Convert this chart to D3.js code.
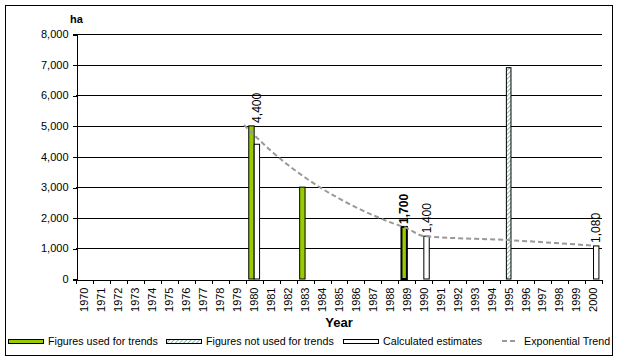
<!DOCTYPE html>
<html>
<head>
  <meta charset="utf-8">
  <title>Area estimates by year</title>
  <script src="https://cdn.jsdelivr.net/npm/d3@7"></script>
  <style>
    body { margin: 0; background: #fff; }
    svg { font-family: "Liberation Sans", Arial, sans-serif; }
    .axis path, .axis line { stroke: #000; shape-rendering: crispEdges; }
    .axis text { font-size: 11px; fill: #000; }
    .grid line { stroke: #000; shape-rendering: crispEdges; }
  </style>
</head>
<body>
<script>
  // categories and series
  var years = d3.range(1970, 2001).map(String);
  var usedYears = ["1980", "1983", "1989"];
  var usedValues = [5000, 3000, 1700];
  var notUsedYears = ["1995"];
  var notUsedValues = [6900];
  var estYears = ["1980", "1990", "2000"];
  var estValues = [4400, 1400, 1080];
  var trendYears = [1979.4, 1980, 1981, 1982, 1983, 1984, 1985, 1986, 1987, 1988, 1989, 1990, 1995, 2000];
  var trendValues = [5030, 4700, 4180, 3720, 3315, 2950, 2630, 2340, 2085, 1855, 1660, 1400, 1270, 1090];
  var yTicks = [0, 1000, 2000, 3000, 4000, 5000, 6000, 7000, 8000];
  var highlightYear = "1989";

  var W = 618, H = 361;
  var plot = {left: 76, right: 602, top: 34, bottom: 279};

  var svg = d3.select("body").append("svg")
      .attr("width", W)
      .attr("height", H);

  // hatch pattern for "not used" bars
  var defs = svg.append("defs");
  var pat = defs.append("pattern")
      .attr("id", "hatch")
      .attr("patternUnits", "userSpaceOnUse")
      .attr("width", 3).attr("height", 3)
      .attr("patternTransform", "rotate(45)");
  pat.append("rect").attr("width", 3).attr("height", 3).attr("fill", "#fff");
  pat.append("line").attr("x1", 0).attr("y1", 0).attr("x2", 0).attr("y2", 3)
      .attr("stroke", "#3b8f78").attr("stroke-width", 1.2);

  // outer frame
  svg.append("rect")
      .attr("x", 5.5).attr("y", 5.5)
      .attr("width", 607).attr("height", 350)
      .attr("fill", "#fff").attr("stroke", "#000");

  var x = d3.scaleBand().domain(years).range([plot.left, plot.right]).padding(0);
  var x1 = d3.scaleBand().domain(["used", "est"]).range([0, x.bandwidth()]).paddingOuter(0.57).paddingInner(0);
  var y = d3.scaleLinear().domain([0, 8000]).range([plot.bottom, plot.top]);
  var xt = d3.scaleLinear().domain([1970, 2000])
      .range([x("1970") + x.bandwidth() / 2, x("2000") + x.bandwidth() / 2]);

  // gridlines
  svg.append("g").attr("class", "grid")
    .selectAll("line").data(yTicks.slice(1)).enter().append("line")
      .attr("x1", plot.left).attr("x2", plot.right)
      .attr("y1", function(d) { return Math.round(y(d)) + 0.5; })
      .attr("y2", function(d) { return Math.round(y(d)) + 0.5; });

  // bars: figures used for trends
  var used = usedYears.map(function(d, i) { return {year: d, value: usedValues[i]}; });
  svg.append("g").selectAll("rect").data(used).enter().append("rect")
      .attr("x", function(d) { return x(d.year) + x1("used"); })
      .attr("width", x1.bandwidth())
      .attr("y", function(d) { return y(d.value); })
      .attr("height", function(d) { return y(0) - y(d.value); })
      .attr("fill", "#99cc00")
      .attr("stroke", "#000")
      .attr("stroke-width", function(d) { return d.year === highlightYear ? 2 : 1; });

  // bars: figures not used for trends
  var notUsed = notUsedYears.map(function(d, i) { return {year: d, value: notUsedValues[i]}; });
  var hw = x1.bandwidth() * 0.85;
  svg.append("g").selectAll("rect").data(notUsed).enter().append("rect")
      .attr("x", function(d) { return x(d.year) + x.bandwidth() / 2 - hw / 2; })
      .attr("width", hw)
      .attr("y", function(d) { return y(d.value); })
      .attr("height", function(d) { return y(0) - y(d.value); })
      .attr("fill", "url(#hatch)")
      .attr("stroke", "#000");

  // bars: calculated estimates
  var est = estYears.map(function(d, i) { return {year: d, value: estValues[i]}; });
  svg.append("g").selectAll("rect").data(est).enter().append("rect")
      .attr("x", function(d) { return x(d.year) + x1("est"); })
      .attr("width", x1.bandwidth())
      .attr("y", function(d) { return y(d.value); })
      .attr("height", function(d) { return y(0) - y(d.value); })
      .attr("fill", "#fff")
      .attr("stroke", "#000");

  // exponential trend
  var trend = trendYears.map(function(d, i) { return {year: d, value: trendValues[i]}; });
  svg.append("path")
      .datum(trend)
      .attr("fill", "none")
      .attr("stroke", "#999")
      .attr("stroke-width", 2)
      .attr("stroke-dasharray", "5,3")
      .attr("d", d3.line()
          .x(function(d) { return xt(d.year); })
          .y(function(d) { return y(d.value); })
          .curve(d3.curveMonotoneX));

  // value labels
  var labels = est.map(function(d) { return {year: d.year, value: d.value, series: "est"}; })
      .concat(used.filter(function(d) { return d.year === highlightYear; })
          .map(function(d) { return {year: d.year, value: d.value, series: "used"}; }));
  var all = used.concat(est).concat(notUsed);
  svg.append("g").selectAll("text").data(labels).enter().append("text")
      .attr("transform", function(d) {
        var top = d3.max(all.filter(function(a) { return a.year === d.year; }), function(a) { return a.value; });
        var cx = x(d.year) + x1(d.series) + x1.bandwidth() / 2;
        return "translate(" + (cx + 4) + "," + (y(top) - 3) + ") rotate(-90)";
      })
      .attr("font-size", "12px")
      .attr("font-weight", function(d) { return d.year === highlightYear ? "bold" : "normal"; })
      .text(function(d) { return d3.format(",")(d.value); });

  // axes
  svg.append("g").attr("class", "axis")
      .attr("transform", "translate(" + (plot.left + 0.5) + ",0)")
      .call(d3.axisLeft(y).tickValues(yTicks).tickSize(4).tickPadding(4).tickFormat(d3.format(",")))
      .call(function(g) { g.selectAll(".tick line").attr("transform", "translate(0,0.5)"); });

  var xAxis = svg.append("g").attr("class", "axis")
      .attr("transform", "translate(0," + (Math.round(y(0)) + 0.5) + ")")
      .call(d3.axisBottom(x).tickSize(0).tickSizeOuter(0));
  xAxis.selectAll(".tick text")
      .attr("transform", "rotate(-90)")
      .attr("text-anchor", "end")
      .attr("x", -8).attr("y", 0).attr("dy", "0.35em");
  xAxis.selectAll(".boundary").data(years.concat(["end"])).enter().append("line")
      .attr("class", "boundary")
      .attr("x1", function(d) { return d === "end" ? plot.right : Math.round(x(d)) + 0.5; })
      .attr("x2", function(d) { return d === "end" ? plot.right : Math.round(x(d)) + 0.5; })
      .attr("y1", 0).attr("y2", 4);

  // axis titles
  svg.append("text")
      .attr("x", 70).attr("y", 23)
      .attr("font-size", "11px").attr("font-weight", "bold")
      .text("ha");
  svg.append("text")
      .attr("x", (plot.left + plot.right) / 2).attr("y", 327)
      .attr("text-anchor", "middle")
      .attr("font-size", "13px").attr("font-weight", "bold")
      .text("Year");

  // legend
  var legend = svg.append("g").attr("font-size", "10.7px");
  var items = [
    {label: "Figures used for trends", x: 8, type: "used"},
    {label: "Figures not used for trends", x: 166, type: "notused"},
    {label: "Calculated estimates", x: 343, type: "est"},
    {label: "Exponential Trend", x: 502, type: "trend"}
  ];
  items.forEach(function(it) {
    if (it.type === "trend") {
      legend.append("line")
          .attr("x1", it.x).attr("x2", it.x + 16)
          .attr("y1", 341).attr("y2", 341)
          .attr("stroke", "#999").attr("stroke-width", 2).attr("stroke-dasharray", "5,3");
      legend.append("text").attr("x", it.x + 22).attr("y", 345).text(it.label);
    } else {
      legend.append("rect")
          .attr("x", it.x + 0.5).attr("y", 339.5)
          .attr("width", 35).attr("height", 4)
          .attr("fill", it.type === "used" ? "#99cc00" : it.type === "notused" ? "url(#hatch)" : "#fff")
          .attr("stroke", "#000");
      legend.append("text").attr("x", it.x + 40).attr("y", 345).text(it.label);
    }
  });
</script>
</body>
</html>
